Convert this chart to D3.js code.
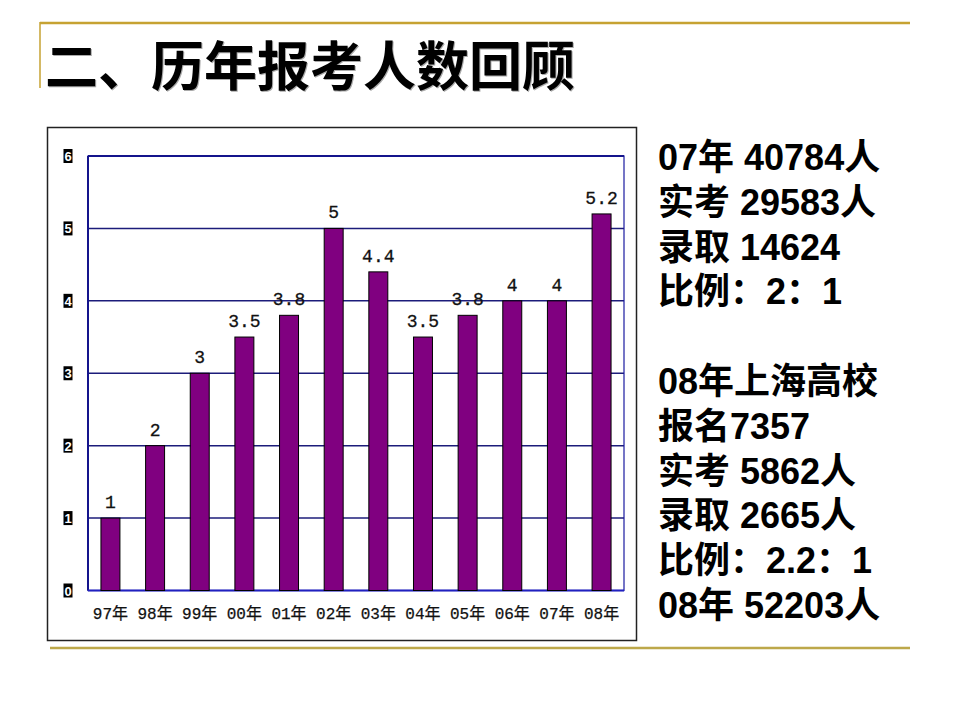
<!DOCTYPE html>
<html><head><meta charset="utf-8">
<script src="https://cdn.jsdelivr.net/npm/d3@7"></script>
<style>body{margin:0;background:#fff;}svg{display:block;}</style>
</head><body>
<svg id="c" width="960" height="720"></svg>
<script>
const title = "二、历年报考人数回顾";
const categories = ["97年","98年","99年","00年","01年","02年","03年","04年","05年","06年","07年","08年"];
const values = [1,2,3,3.5,3.8,5,4.4,3.5,3.8,4,4,5.2];
const valueLabels = ["1","2","3","3.5","3.8","5","4.4","3.5","3.8","4","4","5.2"];
const yTicks = [0,1,2,3,4,5,6];
const notes = ["07年 40784人","实考 29583人","录取 14624","比例：2：1","","08年上海高校","报名7357","实考 5862人","录取 2665人","比例：2.2：1","08年 52203人"];

const svg = d3.select("#c");
const gold = "#c6a232";

// decorative lines
svg.append("line").attr("x1",40).attr("x2",910).attr("y1",23).attr("y2",23).attr("stroke",gold).attr("stroke-width",2.5);
svg.append("line").attr("x1",40).attr("x2",40).attr("y1",22).attr("y2",88).attr("stroke",gold).attr("stroke-width",1.5);
svg.append("line").attr("x1",50).attr("x2",910).attr("y1",648).attr("y2",648).attr("stroke","#bda84a").attr("stroke-width",2.5);

// title
svg.append("text").attr("x",45).attr("y",86).text(title)
  .attr("font-family","'Noto Sans CJK SC'").attr("font-weight","bold").attr("font-size",53).attr("fill","#aaa").attr("transform","translate(1,1)");
svg.append("text").attr("x",45).attr("y",86).text(title)
  .attr("font-family","'Noto Sans CJK SC'").attr("font-weight","bold").attr("font-size",53).attr("fill","#000");

// chart box
svg.append("rect").attr("x",47.5).attr("y",127.5).attr("width",589).attr("height",513).attr("fill","#fff").attr("stroke","#222").attr("stroke-width",1.5);

const x = d3.scaleBand().domain(categories).range([88,624]).paddingInner(0.575).paddingOuter(0.29);
const y = d3.scaleLinear().domain([0,6]).range([590.5,156]);

// grid
const g = svg.append("g");
g.selectAll("line.grid").data(yTicks.filter(d=>d>0 && d<6)).join("line")
  .attr("x1",88).attr("x2",624).attr("y1",d=>y(d)).attr("y2",d=>y(d))
  .attr("stroke","#1c1c7a").attr("stroke-width",1.5);
// plot frame
g.append("rect").attr("x",88).attr("y",y(6)).attr("width",536).attr("height",y(0)-y(6))
  .attr("fill","none").attr("stroke","#1a1aa0").attr("stroke-width",1.2);
g.append("line").attr("x1",88).attr("x2",88).attr("y1",y(6)).attr("y2",y(0)).attr("stroke","#14148c").attr("stroke-width",2);
g.append("line").attr("x1",88).attr("x2",624).attr("y1",y(6)).attr("y2",y(6)).attr("stroke","#14148c").attr("stroke-width",2);
g.append("line").attr("x1",88).attr("x2",624).attr("y1",y(0)).attr("y2",y(0)).attr("stroke","#2020c0").attr("stroke-width",2);

// bars
g.selectAll("rect.bar").data(values).join("rect").attr("class","bar")
  .attr("x",(d,i)=>x(categories[i])).attr("width",x.bandwidth())
  .attr("y",d=>y(d)).attr("height",d=>y(0)-y(d))
  .attr("fill","#800080").attr("stroke","#000").attr("stroke-width",1);

// value labels
g.selectAll("text.val").data(values).join("text")
  .attr("x",(d,i)=>x(categories[i])+x.bandwidth()/2).attr("y",d=>y(d)-10)
  .attr("text-anchor","middle").attr("font-family","'Liberation Mono','DejaVu Sans Mono',monospace")
  .attr("font-size",18).attr("fill","#111").attr("stroke","#111").attr("stroke-width",0.3)
  .text((d,i)=>valueLabels[i]);

// x labels
g.selectAll("text.xl").data(categories).join("text")
  .attr("x",d=>x(d)+x.bandwidth()/2).attr("y",619)
  .attr("text-anchor","middle").attr("font-family","'Liberation Mono','Noto Sans CJK SC',monospace")
  .attr("font-size",16).attr("fill","#111").attr("stroke","#111").attr("stroke-width",0.25).text(d=>d);

// y tick labels (white on black)
const yt = g.selectAll("g.yt").data(yTicks).join("g").attr("transform",d=>`translate(68,${y(d)})`);
yt.append("rect").attr("x",-4.5).attr("y",-7).attr("width",9).attr("height",14).attr("fill","#000");
yt.append("text").attr("y",5).attr("text-anchor","middle").attr("font-family","'Liberation Sans',Arial,sans-serif")
  .attr("font-weight","bold").attr("font-size",13).attr("fill","#fff").text(d=>d);

// notes
svg.append("g").selectAll("text").data(notes).join("text")
  .attr("x",658).attr("y",(d,i)=>170+i*44.8)
  .attr("font-family","'Liberation Sans','Noto Sans CJK SC',sans-serif").attr("font-weight","bold")
  .attr("font-size",36).attr("fill","#000").text(d=>d);
</script>
</body></html>
